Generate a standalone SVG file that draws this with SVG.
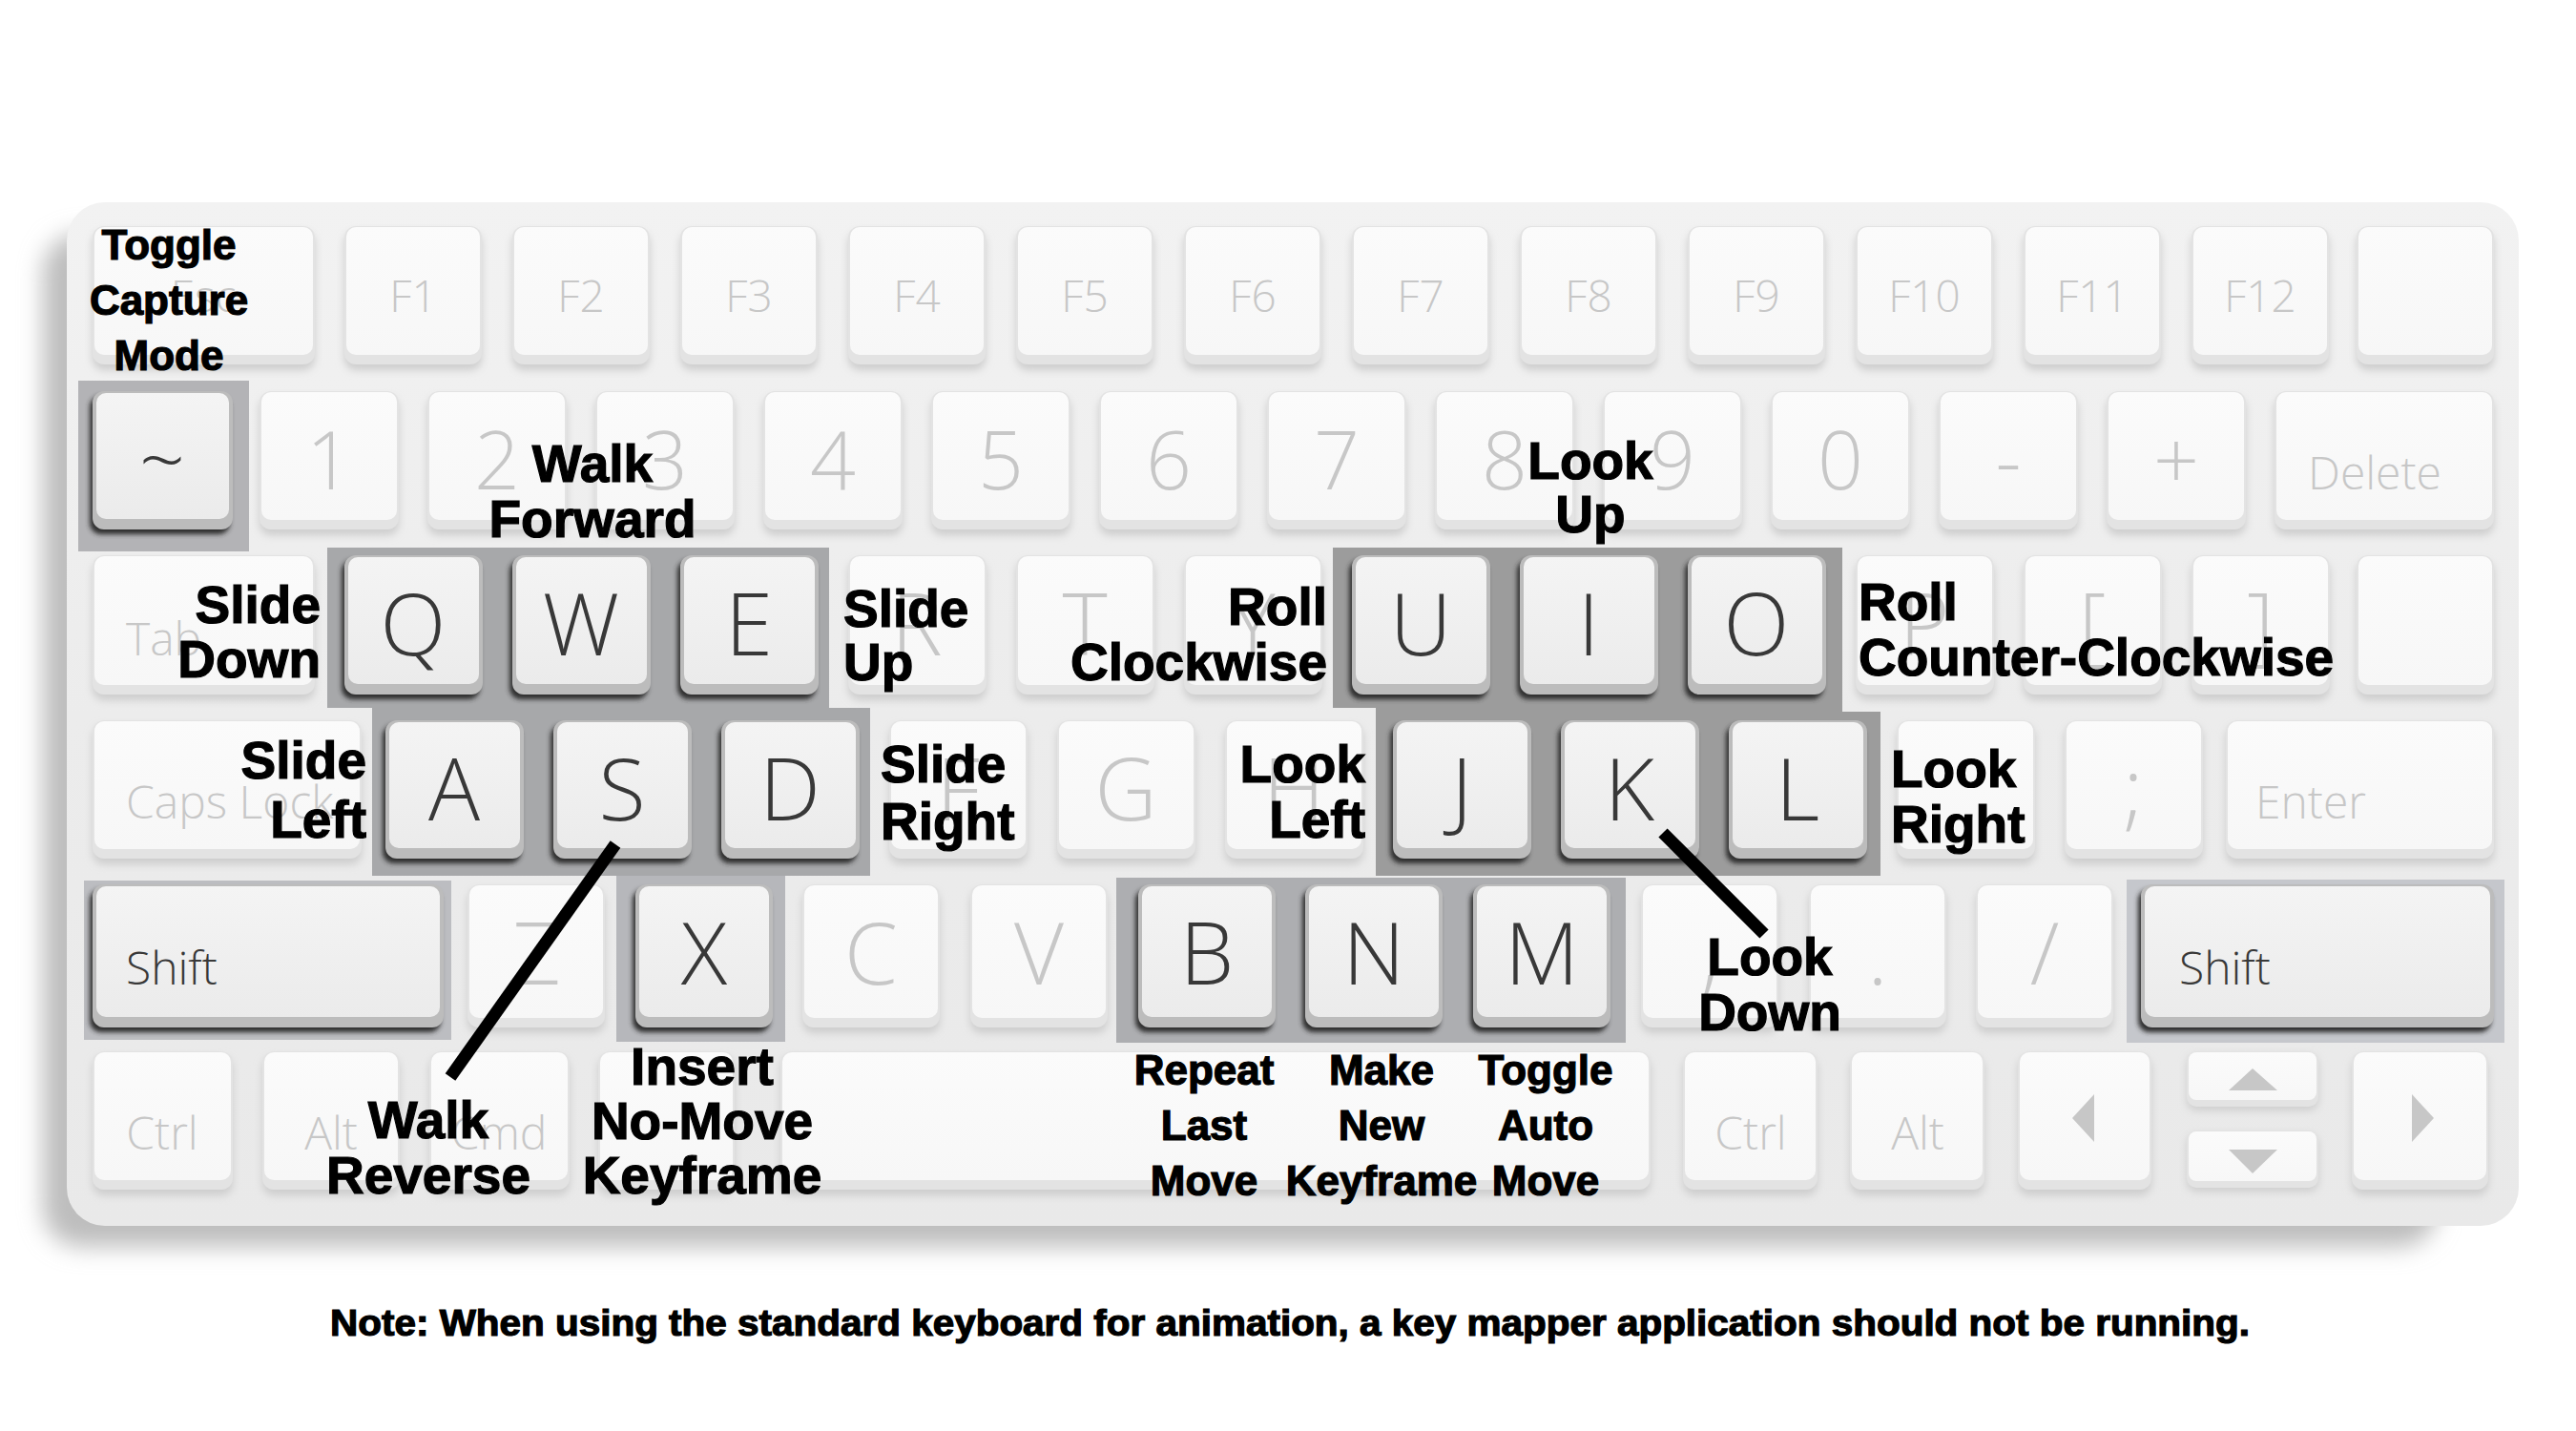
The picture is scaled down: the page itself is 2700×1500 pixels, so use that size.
<svg xmlns="http://www.w3.org/2000/svg" width="2700" height="1500" viewBox="0 0 2700 1500">
<defs>
<filter id="bodyblur" x="-10%" y="-10%" width="120%" height="130%"><feGaussianBlur stdDeviation="12"/></filter>
<filter id="kblur" x="-20%" y="-20%" width="140%" height="150%"><feGaussianBlur stdDeviation="4"/></filter>
<filter id="ablur" x="-20%" y="-20%" width="140%" height="150%"><feGaussianBlur stdDeviation="2.5"/></filter>
<linearGradient id="gbody" x1="0" y1="0" x2="0" y2="1"><stop offset="0" stop-color="#f2f2f2"/><stop offset="0.5" stop-color="#ececec"/><stop offset="1" stop-color="#e9e9e9"/></linearGradient>
<linearGradient id="gface" x1="0" y1="0" x2="0" y2="1"><stop offset="0" stop-color="#fbfbfb"/><stop offset="1" stop-color="#f7f7f7"/></linearGradient>
<linearGradient id="gaface" x1="0" y1="0" x2="0" y2="1"><stop offset="0" stop-color="#f4f4f4"/><stop offset="1" stop-color="#ebebeb"/></linearGradient>
</defs>
<style>
.k .sh{fill:#cdcdcd;filter:url(#kblur)}
.k .lip{fill:#e3e3e3}
.k .face{fill:url(#gface)}
.a .sh{fill:#2f2f2f;filter:url(#ablur)}
.a .lip{fill:#bcbcbc}
.a .face{fill:url(#gaface)}
.kl{font-family:"Open Sans","Liberation Sans",sans-serif;font-weight:300;fill:#c7c7c7;text-anchor:middle}
.a .kl{fill:#383838;font-weight:350}
.st{text-anchor:start}
.f1{font-size:46px}
.f2{font-size:84px}
.f3{font-size:90px}
.fs{font-size:48px}
.arr{fill:#c7c7c7}
.hl{stroke:none}
.lab{font-family:"Liberation Sans",Arial,Helvetica,sans-serif;font-weight:bold;font-size:55px;fill:#000;stroke:#000;stroke-width:1.2px}
.sm{font-size:44px}
.mid{text-anchor:middle}
.end{text-anchor:end}
.conn{stroke:#000;stroke-width:13;stroke-linecap:butt;fill:none}
</style>
<rect width="2700" height="1500" fill="#ffffff"/>
<g id="body">
<rect x="45" y="245" width="2510" height="1062" rx="40" fill="#bdbdbd" filter="url(#bodyblur)"/>
<rect x="70" y="212" width="2570" height="1073" rx="40" fill="url(#gbody)"/>
</g>
<g id="highlights">
<rect class="hl" x="82" y="399" width="179" height="179" fill="#b3b3b6"/>
<polygon class="hl" points="343,574 869,574 869,742 912,742 912,918 390,918 390,742 343,742" fill="#a7a8aa"/>
<polygon class="hl" points="1397,574 1931,574 1931,746 1971,746 1971,918 1442,918 1442,742 1397,742" fill="#9c9c9c"/>
<rect class="hl" x="88" y="923" width="385" height="167" fill="#bcbdc1"/>
<rect class="hl" x="646" y="918" width="177" height="174" fill="#b6b7bb"/>
<rect class="hl" x="1170" y="920" width="534" height="173" fill="#adaeb1"/>
<rect class="hl" x="2229" y="922" width="396" height="171" fill="#c5c7cc"/>
</g>
<g id="keys">
<!-- Row 1 -->
<g id="key-esc" class="k"><rect class="sh" x="97" y="243" width="233" height="145" rx="12"/><rect class="lip" x="97" y="237" width="233" height="145" rx="12"/><rect class="face" x="99" y="238" width="229" height="134" rx="10"/><text class="kl f1" x="213" y="327">Esc</text></g>
<g id="key-f1" class="k"><rect class="sh" x="361" y="243" width="144" height="145" rx="12"/><rect class="lip" x="361" y="237" width="144" height="145" rx="12"/><rect class="face" x="363" y="238" width="140" height="134" rx="10"/><text class="kl f1" x="433" y="327">F1</text></g>
<g id="key-f2" class="k"><rect class="sh" x="537" y="243" width="144" height="145" rx="12"/><rect class="lip" x="537" y="237" width="144" height="145" rx="12"/><rect class="face" x="539" y="238" width="140" height="134" rx="10"/><text class="kl f1" x="609" y="327">F2</text></g>
<g id="key-f3" class="k"><rect class="sh" x="713" y="243" width="144" height="145" rx="12"/><rect class="lip" x="713" y="237" width="144" height="145" rx="12"/><rect class="face" x="715" y="238" width="140" height="134" rx="10"/><text class="kl f1" x="785" y="327">F3</text></g>
<g id="key-f4" class="k"><rect class="sh" x="889" y="243" width="144" height="145" rx="12"/><rect class="lip" x="889" y="237" width="144" height="145" rx="12"/><rect class="face" x="891" y="238" width="140" height="134" rx="10"/><text class="kl f1" x="961" y="327">F4</text></g>
<g id="key-f5" class="k"><rect class="sh" x="1065" y="243" width="144" height="145" rx="12"/><rect class="lip" x="1065" y="237" width="144" height="145" rx="12"/><rect class="face" x="1067" y="238" width="140" height="134" rx="10"/><text class="kl f1" x="1137" y="327">F5</text></g>
<g id="key-f6" class="k"><rect class="sh" x="1241" y="243" width="144" height="145" rx="12"/><rect class="lip" x="1241" y="237" width="144" height="145" rx="12"/><rect class="face" x="1243" y="238" width="140" height="134" rx="10"/><text class="kl f1" x="1313" y="327">F6</text></g>
<g id="key-f7" class="k"><rect class="sh" x="1417" y="243" width="144" height="145" rx="12"/><rect class="lip" x="1417" y="237" width="144" height="145" rx="12"/><rect class="face" x="1419" y="238" width="140" height="134" rx="10"/><text class="kl f1" x="1489" y="327">F7</text></g>
<g id="key-f8" class="k"><rect class="sh" x="1593" y="243" width="144" height="145" rx="12"/><rect class="lip" x="1593" y="237" width="144" height="145" rx="12"/><rect class="face" x="1595" y="238" width="140" height="134" rx="10"/><text class="kl f1" x="1665" y="327">F8</text></g>
<g id="key-f9" class="k"><rect class="sh" x="1769" y="243" width="144" height="145" rx="12"/><rect class="lip" x="1769" y="237" width="144" height="145" rx="12"/><rect class="face" x="1771" y="238" width="140" height="134" rx="10"/><text class="kl f1" x="1841" y="327">F9</text></g>
<g id="key-f10" class="k"><rect class="sh" x="1945" y="243" width="144" height="145" rx="12"/><rect class="lip" x="1945" y="237" width="144" height="145" rx="12"/><rect class="face" x="1947" y="238" width="140" height="134" rx="10"/><text class="kl f1" x="2017" y="327">F10</text></g>
<g id="key-f11" class="k"><rect class="sh" x="2121" y="243" width="144" height="145" rx="12"/><rect class="lip" x="2121" y="237" width="144" height="145" rx="12"/><rect class="face" x="2123" y="238" width="140" height="134" rx="10"/><text class="kl f1" x="2193" y="327">F11</text></g>
<g id="key-f12" class="k"><rect class="sh" x="2297" y="243" width="144" height="145" rx="12"/><rect class="lip" x="2297" y="237" width="144" height="145" rx="12"/><rect class="face" x="2299" y="238" width="140" height="134" rx="10"/><text class="kl f1" x="2369" y="327">F12</text></g>
<g id="key-r1end" class="k"><rect class="sh" x="2470" y="243" width="144" height="145" rx="12"/><rect class="lip" x="2470" y="237" width="144" height="145" rx="12"/><rect class="face" x="2472" y="238" width="140" height="134" rx="10"/></g>
<!-- Row 2 -->
<g id="key-tilde" class="a"><rect class="sh" x="94" y="415" width="147" height="145" rx="12"/><rect class="lip" x="97" y="410" width="147" height="145" rx="12"/><rect class="face" x="101" y="412" width="139" height="132" rx="10"/><text class="kl f2" x="170" y="513">~</text></g>
<g id="key-1" class="k"><rect class="sh" x="272" y="416" width="146" height="145" rx="12"/><rect class="lip" x="272" y="410" width="146" height="145" rx="12"/><rect class="face" x="274" y="411" width="142" height="134" rx="10"/><text class="kl f2" x="345" y="513">1</text></g>
<g id="key-2" class="k"><rect class="sh" x="448" y="416" width="146" height="145" rx="12"/><rect class="lip" x="448" y="410" width="146" height="145" rx="12"/><rect class="face" x="450" y="411" width="142" height="134" rx="10"/><text class="kl f2" x="521" y="513">2</text></g>
<g id="key-3" class="k"><rect class="sh" x="624" y="416" width="146" height="145" rx="12"/><rect class="lip" x="624" y="410" width="146" height="145" rx="12"/><rect class="face" x="626" y="411" width="142" height="134" rx="10"/><text class="kl f2" x="697" y="513">3</text></g>
<g id="key-4" class="k"><rect class="sh" x="800" y="416" width="146" height="145" rx="12"/><rect class="lip" x="800" y="410" width="146" height="145" rx="12"/><rect class="face" x="802" y="411" width="142" height="134" rx="10"/><text class="kl f2" x="873" y="513">4</text></g>
<g id="key-5" class="k"><rect class="sh" x="976" y="416" width="146" height="145" rx="12"/><rect class="lip" x="976" y="410" width="146" height="145" rx="12"/><rect class="face" x="978" y="411" width="142" height="134" rx="10"/><text class="kl f2" x="1049" y="513">5</text></g>
<g id="key-6" class="k"><rect class="sh" x="1152" y="416" width="146" height="145" rx="12"/><rect class="lip" x="1152" y="410" width="146" height="145" rx="12"/><rect class="face" x="1154" y="411" width="142" height="134" rx="10"/><text class="kl f2" x="1225" y="513">6</text></g>
<g id="key-7" class="k"><rect class="sh" x="1328" y="416" width="146" height="145" rx="12"/><rect class="lip" x="1328" y="410" width="146" height="145" rx="12"/><rect class="face" x="1330" y="411" width="142" height="134" rx="10"/><text class="kl f2" x="1401" y="513">7</text></g>
<g id="key-8" class="k"><rect class="sh" x="1504" y="416" width="146" height="145" rx="12"/><rect class="lip" x="1504" y="410" width="146" height="145" rx="12"/><rect class="face" x="1506" y="411" width="142" height="134" rx="10"/><text class="kl f2" x="1577" y="513">8</text></g>
<g id="key-9" class="k"><rect class="sh" x="1680" y="416" width="146" height="145" rx="12"/><rect class="lip" x="1680" y="410" width="146" height="145" rx="12"/><rect class="face" x="1682" y="411" width="142" height="134" rx="10"/><text class="kl f2" x="1753" y="513">9</text></g>
<g id="key-0" class="k"><rect class="sh" x="1856" y="416" width="146" height="145" rx="12"/><rect class="lip" x="1856" y="410" width="146" height="145" rx="12"/><rect class="face" x="1858" y="411" width="142" height="134" rx="10"/><text class="kl f2" x="1929" y="513">0</text></g>
<g id="key-minus" class="k"><rect class="sh" x="2032" y="416" width="146" height="145" rx="12"/><rect class="lip" x="2032" y="410" width="146" height="145" rx="12"/><rect class="face" x="2034" y="411" width="142" height="134" rx="10"/><text class="kl f2" x="2105" y="513">-</text></g>
<g id="key-plus" class="k"><rect class="sh" x="2208" y="416" width="146" height="145" rx="12"/><rect class="lip" x="2208" y="410" width="146" height="145" rx="12"/><rect class="face" x="2210" y="411" width="142" height="134" rx="10"/><text class="kl f2" x="2281" y="513">+</text></g>
<g id="key-delete" class="k"><rect class="sh" x="2384" y="416" width="230" height="145" rx="12"/><rect class="lip" x="2384" y="410" width="230" height="145" rx="12"/><rect class="face" x="2386" y="411" width="226" height="134" rx="10"/><text class="kl fs st" x="2419" y="513">Delete</text></g>
<!-- Row 3 -->
<g id="key-tab" class="k"><rect class="sh" x="97" y="588" width="233" height="146" rx="12"/><rect class="lip" x="97" y="582" width="233" height="146" rx="12"/><rect class="face" x="99" y="583" width="229" height="135" rx="10"/><text class="kl fs st" x="132" y="687">Tab</text></g>
<g id="key-q" class="a"><rect class="sh" x="358" y="587" width="145" height="146" rx="12"/><rect class="lip" x="361" y="582" width="145" height="146" rx="12"/><rect class="face" x="365" y="584" width="137" height="133" rx="10"/><text class="kl f3" x="433" y="687">Q</text></g>
<g id="key-w" class="a"><rect class="sh" x="534" y="587" width="145" height="146" rx="12"/><rect class="lip" x="537" y="582" width="145" height="146" rx="12"/><rect class="face" x="541" y="584" width="137" height="133" rx="10"/><text class="kl f3" x="609" y="687">W</text></g>
<g id="key-e" class="a"><rect class="sh" x="710" y="587" width="145" height="146" rx="12"/><rect class="lip" x="713" y="582" width="145" height="146" rx="12"/><rect class="face" x="717" y="584" width="137" height="133" rx="10"/><text class="kl f3" x="785" y="687">E</text></g>
<g id="key-r" class="k"><rect class="sh" x="889" y="588" width="145" height="146" rx="12"/><rect class="lip" x="889" y="582" width="145" height="146" rx="12"/><rect class="face" x="891" y="583" width="141" height="135" rx="10"/><text class="kl f3" x="961" y="687">R</text></g>
<g id="key-t" class="k"><rect class="sh" x="1065" y="588" width="145" height="146" rx="12"/><rect class="lip" x="1065" y="582" width="145" height="146" rx="12"/><rect class="face" x="1067" y="583" width="141" height="135" rx="10"/><text class="kl f3" x="1137" y="687">T</text></g>
<g id="key-y" class="k"><rect class="sh" x="1241" y="588" width="145" height="146" rx="12"/><rect class="lip" x="1241" y="582" width="145" height="146" rx="12"/><rect class="face" x="1243" y="583" width="141" height="135" rx="10"/><text class="kl f3" x="1313" y="687">Y</text></g>
<g id="key-u" class="a"><rect class="sh" x="1414" y="587" width="145" height="146" rx="12"/><rect class="lip" x="1417" y="582" width="145" height="146" rx="12"/><rect class="face" x="1421" y="584" width="137" height="133" rx="10"/><text class="kl f3" x="1489" y="687">U</text></g>
<g id="key-i" class="a"><rect class="sh" x="1590" y="587" width="145" height="146" rx="12"/><rect class="lip" x="1593" y="582" width="145" height="146" rx="12"/><rect class="face" x="1597" y="584" width="137" height="133" rx="10"/><text class="kl f3" x="1665" y="687">I</text></g>
<g id="key-o" class="a"><rect class="sh" x="1766" y="587" width="145" height="146" rx="12"/><rect class="lip" x="1769" y="582" width="145" height="146" rx="12"/><rect class="face" x="1773" y="584" width="137" height="133" rx="10"/><text class="kl f3" x="1841" y="687">O</text></g>
<g id="key-p" class="k"><rect class="sh" x="1945" y="588" width="145" height="146" rx="12"/><rect class="lip" x="1945" y="582" width="145" height="146" rx="12"/><rect class="face" x="1947" y="583" width="141" height="135" rx="10"/><text class="kl f3" x="2017" y="687">P</text></g>
<g id="key-lbr" class="k"><rect class="sh" x="2121" y="588" width="145" height="146" rx="12"/><rect class="lip" x="2121" y="582" width="145" height="146" rx="12"/><rect class="face" x="2123" y="583" width="141" height="135" rx="10"/><text class="kl f3" x="2193" y="687">[</text></g>
<g id="key-rbr" class="k"><rect class="sh" x="2297" y="588" width="145" height="146" rx="12"/><rect class="lip" x="2297" y="582" width="145" height="146" rx="12"/><rect class="face" x="2299" y="583" width="141" height="135" rx="10"/><text class="kl f3" x="2369" y="687">]</text></g>
<g id="key-r3end" class="k"><rect class="sh" x="2470" y="588" width="144" height="146" rx="12"/><rect class="lip" x="2470" y="582" width="144" height="146" rx="12"/><rect class="face" x="2472" y="583" width="140" height="135" rx="10"/></g>
<!-- Row 4 -->
<g id="key-caps" class="k"><rect class="sh" x="97" y="761" width="282" height="145" rx="12"/><rect class="lip" x="97" y="755" width="282" height="145" rx="12"/><rect class="face" x="99" y="756" width="278" height="134" rx="10"/><text class="kl fs st" x="132" y="858">Caps Lock</text></g>
<g id="key-a" class="a"><rect class="sh" x="401" y="760" width="145" height="145" rx="12"/><rect class="lip" x="404" y="755" width="145" height="145" rx="12"/><rect class="face" x="408" y="757" width="137" height="132" rx="10"/><text class="kl f3" x="476" y="860">A</text></g>
<g id="key-s" class="a"><rect class="sh" x="577" y="760" width="145" height="145" rx="12"/><rect class="lip" x="580" y="755" width="145" height="145" rx="12"/><rect class="face" x="584" y="757" width="137" height="132" rx="10"/><text class="kl f3" x="652" y="860">S</text></g>
<g id="key-d" class="a"><rect class="sh" x="753" y="760" width="145" height="145" rx="12"/><rect class="lip" x="756" y="755" width="145" height="145" rx="12"/><rect class="face" x="760" y="757" width="137" height="132" rx="10"/><text class="kl f3" x="828" y="860">D</text></g>
<g id="key-f" class="k"><rect class="sh" x="932" y="761" width="145" height="145" rx="12"/><rect class="lip" x="932" y="755" width="145" height="145" rx="12"/><rect class="face" x="934" y="756" width="141" height="134" rx="10"/><text class="kl f3" x="1004" y="860">F</text></g>
<g id="key-g" class="k"><rect class="sh" x="1108" y="761" width="145" height="145" rx="12"/><rect class="lip" x="1108" y="755" width="145" height="145" rx="12"/><rect class="face" x="1110" y="756" width="141" height="134" rx="10"/><text class="kl f3" x="1180" y="860">G</text></g>
<g id="key-h" class="k"><rect class="sh" x="1284" y="761" width="145" height="145" rx="12"/><rect class="lip" x="1284" y="755" width="145" height="145" rx="12"/><rect class="face" x="1286" y="756" width="141" height="134" rx="10"/><text class="kl f3" x="1356" y="860">H</text></g>
<g id="key-j" class="a"><rect class="sh" x="1457" y="760" width="145" height="145" rx="12"/><rect class="lip" x="1460" y="755" width="145" height="145" rx="12"/><rect class="face" x="1464" y="757" width="137" height="132" rx="10"/><text class="kl f3" x="1532" y="860">J</text></g>
<g id="key-k" class="a"><rect class="sh" x="1633" y="760" width="145" height="145" rx="12"/><rect class="lip" x="1636" y="755" width="145" height="145" rx="12"/><rect class="face" x="1640" y="757" width="137" height="132" rx="10"/><text class="kl f3" x="1708" y="860">K</text></g>
<g id="key-l" class="a"><rect class="sh" x="1809" y="760" width="145" height="145" rx="12"/><rect class="lip" x="1812" y="755" width="145" height="145" rx="12"/><rect class="face" x="1816" y="757" width="137" height="132" rx="10"/><text class="kl f3" x="1884" y="860">L</text></g>
<g id="key-r4blank" class="k"><rect class="sh" x="1988" y="761" width="145" height="145" rx="12"/><rect class="lip" x="1988" y="755" width="145" height="145" rx="12"/><rect class="face" x="1990" y="756" width="141" height="134" rx="10"/></g>
<g id="key-semi" class="k"><rect class="sh" x="2164" y="761" width="145" height="145" rx="12"/><rect class="lip" x="2164" y="755" width="145" height="145" rx="12"/><rect class="face" x="2166" y="756" width="141" height="134" rx="10"/><text class="kl f3" x="2236" y="860">;</text></g>
<g id="key-enter" class="k"><rect class="sh" x="2333" y="761" width="281" height="145" rx="12"/><rect class="lip" x="2333" y="755" width="281" height="145" rx="12"/><rect class="face" x="2335" y="756" width="277" height="134" rx="10"/><text class="kl fs st" x="2364" y="858">Enter</text></g>
<!-- Row 5 -->
<g id="key-lshift" class="a"><rect class="sh" x="94" y="932" width="368" height="150" rx="12"/><rect class="lip" x="97" y="927" width="368" height="150" rx="12"/><rect class="face" x="101" y="929" width="360" height="137" rx="10"/><text class="kl fs st" x="132" y="1032">Shift</text></g>
<g id="key-z" class="k"><rect class="sh" x="490" y="933" width="144" height="150" rx="12"/><rect class="lip" x="490" y="927" width="144" height="150" rx="12"/><rect class="face" x="492" y="928" width="140" height="139" rx="10"/><text class="kl f3" x="562" y="1032">Z</text></g>
<g id="key-x" class="a"><rect class="sh" x="663" y="932" width="144" height="150" rx="12"/><rect class="lip" x="666" y="927" width="144" height="150" rx="12"/><rect class="face" x="670" y="929" width="136" height="137" rx="10"/><text class="kl f3" x="738" y="1032">X</text></g>
<g id="key-c" class="k"><rect class="sh" x="841" y="933" width="144" height="150" rx="12"/><rect class="lip" x="841" y="927" width="144" height="150" rx="12"/><rect class="face" x="843" y="928" width="140" height="139" rx="10"/><text class="kl f3" x="913" y="1032">C</text></g>
<g id="key-v" class="k"><rect class="sh" x="1017" y="933" width="144" height="150" rx="12"/><rect class="lip" x="1017" y="927" width="144" height="150" rx="12"/><rect class="face" x="1019" y="928" width="140" height="139" rx="10"/><text class="kl f3" x="1089" y="1032">V</text></g>
<g id="key-b" class="a"><rect class="sh" x="1190" y="932" width="144" height="150" rx="12"/><rect class="lip" x="1193" y="927" width="144" height="150" rx="12"/><rect class="face" x="1197" y="929" width="136" height="137" rx="10"/><text class="kl f3" x="1265" y="1032">B</text></g>
<g id="key-n" class="a"><rect class="sh" x="1365" y="932" width="144" height="150" rx="12"/><rect class="lip" x="1368" y="927" width="144" height="150" rx="12"/><rect class="face" x="1372" y="929" width="136" height="137" rx="10"/><text class="kl f3" x="1440" y="1032">N</text></g>
<g id="key-m" class="a"><rect class="sh" x="1541" y="932" width="144" height="150" rx="12"/><rect class="lip" x="1544" y="927" width="144" height="150" rx="12"/><rect class="face" x="1548" y="929" width="136" height="137" rx="10"/><text class="kl f3" x="1616" y="1032">M</text></g>
<g id="key-comma" class="k"><rect class="sh" x="1720" y="933" width="144" height="150" rx="12"/><rect class="lip" x="1720" y="927" width="144" height="150" rx="12"/><rect class="face" x="1722" y="928" width="140" height="139" rx="10"/><text class="kl f3" x="1792" y="1032">,</text></g>
<g id="key-period" class="k"><rect class="sh" x="1896" y="933" width="144" height="150" rx="12"/><rect class="lip" x="1896" y="927" width="144" height="150" rx="12"/><rect class="face" x="1898" y="928" width="140" height="139" rx="10"/><text class="kl f3" x="1968" y="1032">.</text></g>
<g id="key-slash" class="k"><rect class="sh" x="2071" y="933" width="144" height="150" rx="12"/><rect class="lip" x="2071" y="927" width="144" height="150" rx="12"/><rect class="face" x="2073" y="928" width="140" height="139" rx="10"/><text class="kl f3" x="2143" y="1032">/</text></g>
<g id="key-rshift" class="a"><rect class="sh" x="2241" y="932" width="370" height="150" rx="12"/><rect class="lip" x="2244" y="927" width="370" height="150" rx="12"/><rect class="face" x="2248" y="929" width="362" height="137" rx="10"/><text class="kl fs st" x="2284" y="1032">Shift</text></g>
<!-- Row 6 -->
<g id="key-lctrl" class="k"><rect class="sh" x="97" y="1108" width="147" height="145" rx="12"/><rect class="lip" x="97" y="1102" width="147" height="145" rx="12"/><rect class="face" x="99" y="1103" width="143" height="134" rx="10"/><text class="kl fs" x="170" y="1205">Ctrl</text></g>
<g id="key-lalt" class="k"><rect class="sh" x="275" y="1108" width="144" height="145" rx="12"/><rect class="lip" x="275" y="1102" width="144" height="145" rx="12"/><rect class="face" x="277" y="1103" width="140" height="134" rx="10"/><text class="kl fs" x="347" y="1205">Alt</text></g>
<g id="key-cmd" class="k"><rect class="sh" x="450" y="1108" width="147" height="145" rx="12"/><rect class="lip" x="450" y="1102" width="147" height="145" rx="12"/><rect class="face" x="452" y="1103" width="143" height="134" rx="10"/><text class="kl fs" x="523" y="1205">Cmd</text></g>
<g id="key-r6blank" class="k"><rect class="sh" x="627" y="1108" width="143" height="145" rx="12"/><rect class="lip" x="627" y="1102" width="143" height="145" rx="12"/><rect class="face" x="629" y="1103" width="139" height="134" rx="10"/></g>
<g id="key-space" class="k"><rect class="sh" x="818" y="1108" width="912" height="145" rx="12"/><rect class="lip" x="818" y="1102" width="912" height="145" rx="12"/><rect class="face" x="820" y="1103" width="908" height="134" rx="10"/></g>
<g id="key-rctrl" class="k"><rect class="sh" x="1764" y="1108" width="141" height="145" rx="12"/><rect class="lip" x="1764" y="1102" width="141" height="145" rx="12"/><rect class="face" x="1766" y="1103" width="137" height="134" rx="10"/><text class="kl fs" x="1835" y="1205">Ctrl</text></g>
<g id="key-ralt" class="k"><rect class="sh" x="1939" y="1108" width="141" height="145" rx="12"/><rect class="lip" x="1939" y="1102" width="141" height="145" rx="12"/><rect class="face" x="1941" y="1103" width="137" height="134" rx="10"/><text class="kl fs" x="2010" y="1205">Alt</text></g>
<g id="key-left" class="k"><rect class="sh" x="2115" y="1108" width="140" height="145" rx="12"/><rect class="lip" x="2115" y="1102" width="140" height="145" rx="12"/><rect class="face" x="2117" y="1103" width="136" height="134" rx="10"/><polygon class="arr" points="2172,1172 2195,1147 2195,1197"/></g>
<g id="key-up" class="k"><rect class="sh" x="2292" y="1106" width="138" height="58" rx="10"/><rect class="lip" x="2292" y="1102" width="138" height="58" rx="10"/><rect class="face" x="2294" y="1103" width="134" height="50" rx="8"/><polygon class="arr" points="2361,1120 2387,1143 2336,1143"/></g>
<g id="key-down" class="k"><rect class="sh" x="2292" y="1189" width="138" height="60" rx="10"/><rect class="lip" x="2292" y="1185" width="138" height="60" rx="10"/><rect class="face" x="2294" y="1186" width="134" height="52" rx="8"/><polygon class="arr" points="2336,1205 2387,1205 2361,1230"/></g>
<g id="key-right" class="k"><rect class="sh" x="2465" y="1108" width="143" height="145" rx="12"/><rect class="lip" x="2465" y="1102" width="143" height="145" rx="12"/><rect class="face" x="2467" y="1103" width="139" height="134" rx="10"/><polygon class="arr" points="2551,1172 2528,1147 2528,1197"/></g>
</g>
<g id="connectors">
<line class="conn" x1="645" y1="885" x2="472" y2="1129"/>
<line class="conn" x1="1743" y1="873" x2="1849" y2="979"/>
</g>
<g id="labels">
<g id="lbl-toggle-capture"><text class="lab sm mid"><tspan x="177" y="272">Toggle</tspan><tspan x="177" y="330">Capture</tspan><tspan x="177" y="388">Mode</tspan></text></g>
<g id="lbl-walk-forward"><text class="lab mid"><tspan x="621" y="505">Walk</tspan><tspan x="621" y="563">Forward</tspan></text></g>
<g id="lbl-look-up"><text class="lab mid"><tspan x="1667" y="502">Look</tspan><tspan x="1667" y="558">Up</tspan></text></g>
<g id="lbl-slide-down"><text class="lab end"><tspan x="336" y="653">Slide</tspan><tspan x="336" y="710">Down</tspan></text></g>
<g id="lbl-slide-up"><text class="lab"><tspan x="884" y="657">Slide</tspan><tspan x="884" y="713">Up</tspan></text></g>
<g id="lbl-roll-cw"><text class="lab end"><tspan x="1391" y="655">Roll</tspan><tspan x="1391" y="713">Clockwise</tspan></text></g>
<g id="lbl-roll-ccw"><text class="lab"><tspan x="1948" y="650">Roll</tspan><tspan x="1948" y="708">Counter-Clockwise</tspan></text></g>
<g id="lbl-slide-left"><text class="lab end"><tspan x="384" y="816">Slide</tspan><tspan x="384" y="878">Left</tspan></text></g>
<g id="lbl-slide-right"><text class="lab"><tspan x="923" y="820">Slide</tspan><tspan x="923" y="880">Right</tspan></text></g>
<g id="lbl-look-left"><text class="lab end"><tspan x="1431" y="820">Look</tspan><tspan x="1431" y="878">Left</tspan></text></g>
<g id="lbl-look-right"><text class="lab"><tspan x="1982" y="825">Look</tspan><tspan x="1982" y="883">Right</tspan></text></g>
<g id="lbl-look-down"><text class="lab mid"><tspan x="1855" y="1022">Look</tspan><tspan x="1855" y="1080">Down</tspan></text></g>
<g id="lbl-walk-reverse"><text class="lab mid"><tspan x="449" y="1193">Walk</tspan><tspan x="449" y="1251">Reverse</tspan></text></g>
<g id="lbl-insert"><text class="lab mid"><tspan x="736" y="1137">Insert</tspan><tspan x="736" y="1194">No-Move</tspan><tspan x="736" y="1251">Keyframe</tspan></text></g>
<g id="lbl-repeat"><text class="lab sm mid"><tspan x="1262" y="1137">Repeat</tspan><tspan x="1262" y="1195">Last</tspan><tspan x="1262" y="1253">Move</tspan></text></g>
<g id="lbl-make"><text class="lab sm mid"><tspan x="1448" y="1137">Make</tspan><tspan x="1448" y="1195">New</tspan><tspan x="1448" y="1253">Keyframe</tspan></text></g>
<g id="lbl-toggle-auto"><text class="lab sm mid"><tspan x="1620" y="1137">Toggle</tspan><tspan x="1620" y="1195">Auto</tspan><tspan x="1620" y="1253">Move</tspan></text></g>
<g id="lbl-note"><text class="lab" style="font-size:38px" x="346" y="1400" textLength="2012" lengthAdjust="spacingAndGlyphs">Note: When using the standard keyboard for animation, a key mapper application should not be running.</text></g>
</g>
</svg>
